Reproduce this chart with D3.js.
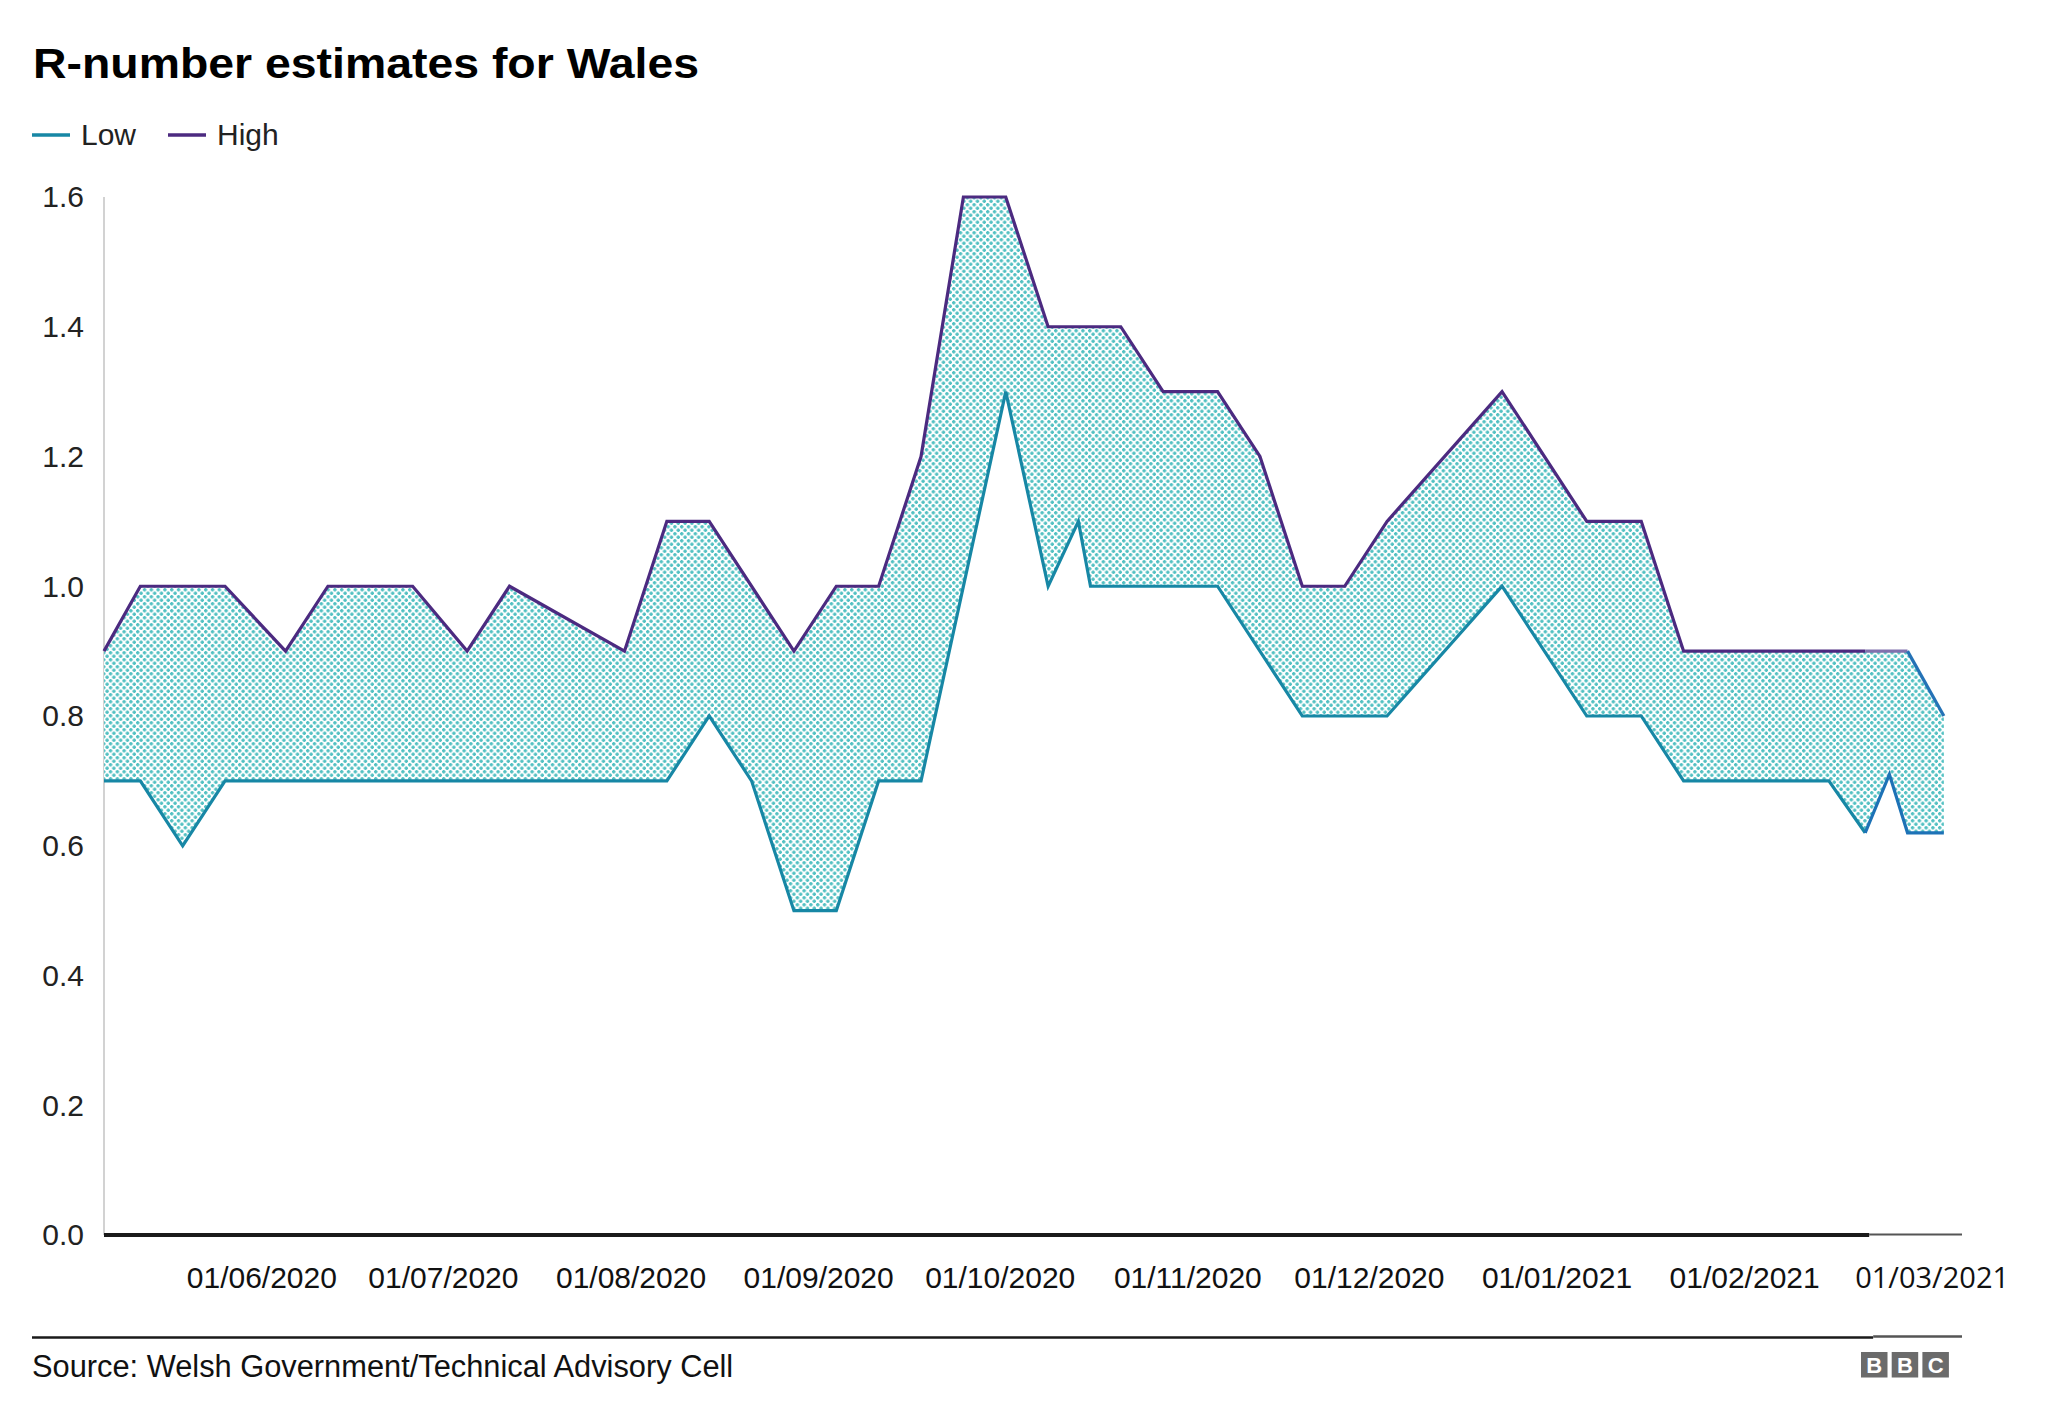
<!DOCTYPE html>
<html><head><meta charset="utf-8">
<script src="https://cdn.jsdelivr.net/npm/d3@7"></script>
<style>
html,body{margin:0;padding:0;background:#fff;}
svg{display:block;}
text{font-family:"Liberation Sans", Arial, Helvetica, sans-serif;}
</style></head><body>
<svg id="chart" width="2048" height="1423"></svg>
<script>
// ---- data ----
const highDates = ["2020-05-06","2020-05-12","2020-05-26","2020-06-05","2020-06-12","2020-06-26","2020-07-05","2020-07-12","2020-07-31","2020-08-07","2020-08-14","2020-08-28","2020-09-04","2020-09-11","2020-09-18","2020-09-25","2020-10-02","2020-10-09","2020-10-21","2020-10-28","2020-11-06","2020-11-13","2020-11-20","2020-11-27","2020-12-04","2020-12-23","2021-01-06","2021-01-15","2021-01-22","2021-02-21","2021-02-28","2021-03-06"];
const highValues = [0.9,1.0,1.0,0.9,1.0,1.0,0.9,1.0,0.9,1.1,1.1,0.9,1.0,1.0,1.2,1.6,1.6,1.4,1.4,1.3,1.3,1.2,1.0,1.0,1.1,1.3,1.1,1.1,0.9,0.9,0.9,0.8];
const lowDates = ["2020-05-06","2020-05-12","2020-05-19","2020-05-26","2020-08-07","2020-08-14","2020-08-21","2020-08-28","2020-09-04","2020-09-11","2020-09-18","2020-10-02","2020-10-09","2020-10-14","2020-10-16","2020-11-06","2020-11-20","2020-12-04","2020-12-23","2021-01-06","2021-01-15","2021-01-22","2021-02-15","2021-02-21","2021-02-25","2021-02-28","2021-03-06"];
const lowValues = [0.7,0.7,0.6,0.7,0.7,0.8,0.7,0.5,0.5,0.7,0.7,1.3,1.0,1.1,1.0,1.0,0.8,0.8,1.0,0.8,0.8,0.7,0.7,0.62,0.71,0.62,0.62];
const yTicks = [0,0.2,0.4,0.6,0.8,1.0,1.2,1.4,1.6];
const xTickDates = ["2020-06-01","2020-07-01","2020-08-01","2020-09-01","2020-10-01","2020-11-01","2020-12-01","2021-01-01","2021-02-01","2021-03-01"];
const xTickLabels = ["01/06/2020","01/07/2020","01/08/2020","01/09/2020","01/10/2020","01/11/2020","01/12/2020","01/01/2021","01/02/2021","01/03/2021"];
const xDomain = ["2020-05-06","2021-03-09"];
const revisedFrom = "2021-02-21";
const title = "R-number estimates for Wales";
const source = "Source: Welsh Government/Technical Advisory Cell";
const legendItems = [{key:"Low", color:"#1787a5"},{key:"High", color:"#4c2a80"}];

// ---- setup ----
const parse = d3.utcParse("%Y-%m-%d");
const svg = d3.select("#chart");
const x = d3.scaleUtc().domain(xDomain.map(parse)).range([104, 1962]);
const y = d3.scaleLinear().domain([0, 1.6]).range([1235, 197]);

const high = highDates.map((d,i)=>({date:parse(d), v:highValues[i]}));
const low = lowDates.map((d,i)=>({date:parse(d), v:lowValues[i]}));
const rev = parse(revisedFrom);

// pattern
const defs = svg.append("defs");
const pat = defs.append("pattern").attr("id","dots").attr("patternUnits","userSpaceOnUse")
  .attr("width",6.8).attr("height",7);
pat.append("rect").attr("width",6.8).attr("height",7).attr("fill","#ffffff");
[[1.7,1.75],[5.1,5.25]].forEach(([cx,cy])=>{
  pat.append("rect").attr("x",cx-1.8).attr("y",cy-0.9).attr("width",3.6).attr("height",1.8).attr("fill","#52c0c2");
  pat.append("rect").attr("x",cx-0.9).attr("y",cy-1.8).attr("width",1.8).attr("height",3.6).attr("fill","#52c0c2");
});

// title
svg.append("text").attr("x",33).attr("y",77.5).attr("font-size",43).attr("font-weight","bold")
  .attr("fill","#000").attr("textLength",666).attr("lengthAdjust","spacingAndGlyphs").text(title);

// legend
const lg = svg.append("g");
legendItems.forEach((it,i)=>{
  const gx = i===0 ? 32 : 168;
  lg.append("line").attr("x1",gx).attr("x2",gx+38).attr("y1",135).attr("y2",135)
    .attr("stroke",it.color).attr("stroke-width",3.5);
  lg.append("text").attr("x",gx+49).attr("y",144.5).attr("font-size",30).attr("fill","#222").text(it.key);
});

// y axis line
svg.append("line").attr("x1",x.range()[0]).attr("x2",x.range()[0]).attr("y1",y(1.6)).attr("y2",y(0))
  .attr("stroke","#d2d2d2").attr("stroke-width",2);

// y axis labels
const yAxis = d3.axisLeft(y).tickValues(yTicks).tickFormat(d3.format(".1f")).tickSize(0).tickPadding(20);
const yg = svg.append("g").attr("transform",`translate(${x.range()[0]},0)`).call(yAxis);
yg.select(".domain").remove();
yg.selectAll("text").attr("font-size",30).attr("fill","#222").attr("dy","0.33em")
  .style("font-family",'"Liberation Sans", Arial, sans-serif');

// area fill
const pts = high.map(d=>[x(d.date), y(d.v)]).concat(low.slice().reverse().map(d=>[x(d.date), y(d.v)]));
svg.append("path").attr("d", d3.line()(pts) + "Z").attr("fill","url(#dots)").attr("stroke","none");

// lines
const line = d3.line().x(d=>x(d.date)).y(d=>y(d.v));
const hiMain = high.filter(d=>d.date<=rev);
const hiRev = high.filter(d=>d.date>=rev);
const loMain = low.filter(d=>d.date<=rev);
const loRev = low.filter(d=>d.date>=rev);
svg.append("path").attr("d",line(loMain)).attr("fill","none").attr("stroke","#1787a5").attr("stroke-width",3.2);
svg.append("path").attr("d",line(loRev)).attr("fill","none").attr("stroke","#1d72b6").attr("stroke-width",3.2);
svg.append("path").attr("d",line(hiMain)).attr("fill","none").attr("stroke","#4c2a80").attr("stroke-width",3.2);
svg.append("path").attr("d",line(hiRev.slice(0,2))).attr("fill","none").attr("stroke","#8071ad").attr("stroke-width",3.2);
svg.append("path").attr("d",line(hiRev.slice(1))).attr("fill","none").attr("stroke","#2472b6").attr("stroke-width",3.2);

// x baseline
svg.append("line").attr("x1",x.range()[0]).attr("x2",x(rev)+4).attr("y1",y(0)).attr("y2",y(0))
  .attr("stroke","#1a1a1a").attr("stroke-width",4);
svg.append("line").attr("x1",x(rev)+4).attr("x2",x.range()[1]).attr("y1",y(0)-0.5).attr("y2",y(0)-0.5)
  .attr("stroke","#555").attr("stroke-width",2.2);

// x labels
const xAxis = d3.axisBottom(x).tickValues(xTickDates.map(parse))
  .tickFormat((d,i)=>xTickLabels[i]).tickSize(0).tickPadding(32);
const xg = svg.append("g").attr("transform",`translate(0,${y(0)})`).call(xAxis);
xg.select(".domain").remove();
xg.selectAll("text").attr("font-size",30).attr("fill","#111")
  .style("font-family",'"Liberation Sans", Arial, sans-serif');
xg.selectAll(".tick").filter((d,i)=>i===xTickDates.length-1).select("text")
  .attr("dx",18).style("font-family",'"Open Sans", "Liberation Sans", sans-serif').attr("font-size",29);

// source rule
svg.append("line").attr("x1",32).attr("x2",x(rev)+8).attr("y1",1337.5).attr("y2",1337.5)
  .attr("stroke","#1a1a1a").attr("stroke-width",2.5);
svg.append("line").attr("x1",x(rev)+8).attr("x2",x.range()[1]).attr("y1",1336.5).attr("y2",1336.5)
  .attr("stroke","#555").attr("stroke-width",2.5);

// source
svg.append("text").attr("x",32).attr("y",1376.5).attr("font-size",30.8).attr("fill","#111").text(source);

// BBC logo
const logo = svg.append("g");
["B","B","C"].forEach((ch,i)=>{
  const bx = 1861 + i*30.7;
  logo.append("rect").attr("x",bx).attr("y",1352).attr("width",26.5).attr("height",25.5).attr("fill","#6b6b6b");
  logo.append("text").attr("x",bx+13.25).attr("y",1372.5).attr("text-anchor","middle")
    .attr("font-size",22).attr("font-weight","bold").attr("fill","#fff").text(ch);
});
</script>
</body></html>
